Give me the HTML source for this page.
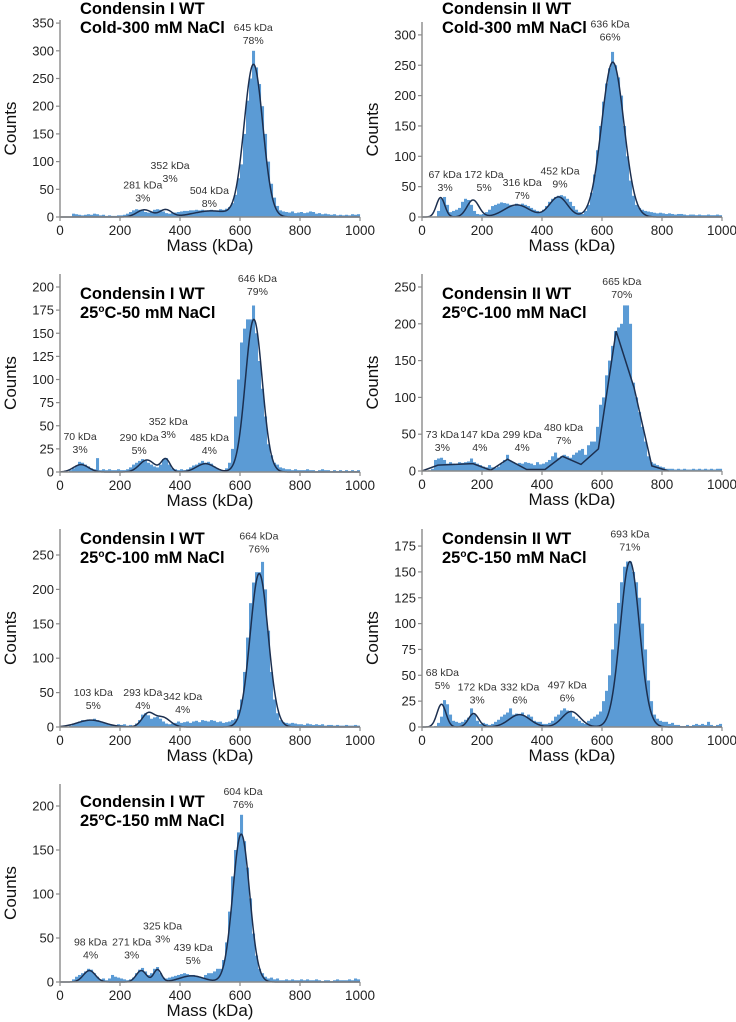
<!DOCTYPE html>
<html><head><meta charset="utf-8"><style>
html,body{margin:0;padding:0;background:#fff;}
svg{display:block;font-family:"Liberation Sans",Arial,sans-serif;}
</style></head><body>
<svg id="fig" width="736" height="1022" viewBox="0 0 736 1022" xmlns="http://www.w3.org/2000/svg"></svg>
<script>
// ---------- data (10 kDa bins, 0..1000 kDa) ----------
const p1Counts=[0,0,0,0,6,5,4,3,4,5, 4,6,5,3,4,2,3,2,2,3, 3,4,6,9,12,14,13,12,9,8, 10,13,14,13,10,7,6,7,8,9, 10,11,11,12,12,13,12,13,12,12, 13,12,12,14,13,15,18,25,40,70, 95,150,210,250,300,270,240,200,150,100, 60,35,20,12,10,9,8,10,7,8, 9,7,8,10,9,6,7,5,6,5, 4,5,3,4,3,4,3,5,4,5];
const p1Peaks=[281,352,504,645], p1Heights=[13,13,11,275], p1Widths=[25,20,60,31];
const p1Labels=["281 kDa","352 kDa","504 kDa","645 kDa"], p1Pct=["3%","3%","8%","78%"];
const p1LabX=[276,367,498,644], p1LabY=[59,94,49,343];

const p2Counts=[0,0,0,0,1,10,30,33,20,8, 10,12,15,25,30,28,20,10,5,4, 5,8,12,18,20,22,24,23,22,20, 18,22,20,22,20,18,15,12,10,8, 12,18,25,30,33,35,36,34,30,25, 18,12,8,5,10,20,40,70,110,150, 190,220,245,272,250,230,200,150,100,60, 35,20,15,12,10,9,8,7,6,7, 6,5,6,5,4,5,5,4,3,4, 4,3,4,3,3,4,3,3,4,3];
const p2Peaks=[62,170,316,455,636], p2Heights=[32,28,20,33,255], p2Widths=[14,20,42,30,37];
const p2Labels=["67 kDa","172 kDa","316 kDa","452 kDa","636 kDa"], p2Pct=["3%","5%","7%","9%","66%"];
const p2LabX=[77,207,334,460,627], p2LabY=[71,71,58,77,319];

const p3Counts=[0,0,0,2,4,7,11,10,8,6, 4,3,15,2,3,2,3,2,2,3, 2,2,3,5,8,10,12,14,13,10, 8,6,5,8,14,15,8,4,3,2, 3,2,3,5,7,8,10,12,10,11, 9,6,4,2,2,4,10,25,60,100, 140,155,165,165,180,150,120,90,60,30, 18,10,8,5,4,3,3,2,3,2, 2,2,3,2,2,1,2,3,2,2, 1,2,1,2,1,2,1,2,1,2];
const p3Peaks=[70,290,352,485,646], p3Heights=[8,13,14,9,165], p3Widths=[25,25,15,30,28];
const p3Labels=["70 kDa","290 kDa","352 kDa","485 kDa","646 kDa"], p3Pct=["3%","5%","3%","4%","79%"];
const p3LabX=[67,264,361,498,658], p3LabY=[39,38,55,38,210];

const p4Counts=[0,0,1,3,15,17,18,15,10,12, 10,9,12,11,12,13,17,12,10,8, 6,5,8,5,4,6,10,15,22,14, 12,10,11,10,12,11,10,8,12,9, 10,12,15,20,25,18,20,22,20,18, 22,25,28,30,22,35,40,40,60,90, 100,130,150,170,190,195,200,225,225,200, 120,100,80,60,40,20,12,10,8,6, 5,3,3,3,2,3,2,3,2,2, 3,2,3,2,3,2,3,2,3,3];
const p4FitX=[0,53,170,229,285,349,410,468,530,588,647,707,766,822];
const p4FitY=[0,8,10,1,16,2,2,20,9,30,190,113,7,0];
const p4Labels=["73 kDa","147 kDa","299 kDa","480 kDa","665 kDa"], p4Pct=["3%","4%","4%","7%","70%"];
const p4LabX=[68,193,334,472,666], p4LabY=[50,50,50,60,258];

const p5Counts=[0,0,0,2,5,6,8,10,9,11, 10,12,10,8,6,5,4,3,3,4, 3,4,2,3,2,5,10,18,20,17, 12,14,15,12,8,5,4,5,6,8, 6,7,8,6,8,9,7,10,9,8, 10,9,7,8,6,7,8,10,12,25, 40,80,130,180,210,225,225,240,200,140, 80,40,20,10,7,6,5,6,5,4, 4,3,5,4,3,4,3,4,2,3, 3,2,3,2,2,3,2,2,3,2];
const p5Peaks=[103,293,342,664], p5Heights=[10,19,14,223], p5Widths=[45,20,25,30];
const p5Labels=["103 kDa","293 kDa","342 kDa","664 kDa"], p5Pct=["5%","4%","4%","76%"];
const p5LabX=[111,276,409,663], p5LabY=[51,51,45,278];

const p6Counts=[0,0,0,0,1,4,10,26,22,12, 6,5,4,5,7,9,18,12,6,3, 4,3,2,3,5,7,10,12,14,18, 12,13,12,14,10,12,10,6,5,5, 3,3,4,6,10,12,16,18,16,15, 10,8,6,4,3,6,8,10,12,15, 25,35,50,75,100,120,140,155,160,160, 150,140,125,100,75,45,25,12,8,6, 5,5,3,4,2,2,1,1,2,1, 2,3,2,3,2,5,2,1,2,3];
const p6Peaks=[65,172,325,497,693], p6Heights=[22,13,12,15,160], p6Widths=[15,17,35,30,32];
const p6Labels=["68 kDa","172 kDa","332 kDa","497 kDa","693 kDa"], p6Pct=["5%","3%","6%","6%","71%"];
const p6LabX=[68,184,326,484,693], p6LabY=[53,39,39,41,187];

const p7Counts=[0,0,0,0,3,6,8,10,12,15, 14,10,6,3,4,2,4,8,6,5, 4,3,2,3,5,10,14,16,12,8, 10,15,17,10,5,4,5,6,7,8, 9,10,9,8,8,7,6,5,8,10, 10,12,15,15,25,45,80,120,150,170, 190,160,130,95,55,30,15,10,6,4, 5,3,4,2,2,3,2,3,2,2, 3,2,3,2,2,3,2,1,2,2, 1,2,3,2,2,2,3,2,4,3];
const p7Peaks=[98,271,325,439,604], p7Heights=[13,13,14,7,168], p7Widths=[20,17,13,40,28];
const p7Labels=["98 kDa","271 kDa","325 kDa","439 kDa","604 kDa"], p7Pct=["4%","3%","3%","5%","76%"];
const p7LabX=[102,239,342,444,610], p7LabY=[46,46,64,40,217];

const xTicks=[0,200,400,600,800,1000];

// ---------- layout ----------
const panels=[
 {id:"p1",x0:60,y0:217,top:20,ymax:350,ystep:50,scale:0.554,t1:"Condensin I WT",t2:"Cold-300 mM NaCl",deg:false,ty:-6,counts:p1Counts,peaks:p1Peaks,heights:p1Heights,widths:p1Widths,labels:p1Labels,pct:p1Pct,lx:p1LabX,ly:p1LabY},
 {id:"p2",x0:422,y0:217,top:22,ymax:300,ystep:50,scale:0.607,t1:"Condensin II WT",t2:"Cold-300 mM NaCl",deg:false,ty:-8,counts:p2Counts,peaks:p2Peaks,heights:p2Heights,widths:p2Widths,labels:p2Labels,pct:p2Pct,lx:p2LabX,ly:p2LabY},
 {id:"p3",x0:60,y0:472,top:274,ymax:200,ystep:25,scale:0.925,t1:"Condensin I WT",t2:"25C-50 mM NaCl",deg:true,ty:25,counts:p3Counts,peaks:p3Peaks,heights:p3Heights,widths:p3Widths,labels:p3Labels,pct:p3Pct,lx:p3LabX,ly:p3LabY},
 {id:"p4",x0:422,y0:471,top:274,ymax:250,ystep:50,scale:0.736,t1:"Condensin II WT",t2:"25C-100 mM NaCl",deg:true,ty:25,counts:p4Counts,fitX:p4FitX,fitY:p4FitY,labels:p4Labels,pct:p4Pct,lx:p4LabX,ly:p4LabY},
 {id:"p5",x0:60,y0:727,top:529,ymax:250,ystep:50,scale:0.688,t1:"Condensin I WT",t2:"25C-100 mM NaCl",deg:true,ty:15,counts:p5Counts,peaks:p5Peaks,heights:p5Heights,widths:p5Widths,labels:p5Labels,pct:p5Pct,lx:p5LabX,ly:p5LabY},
 {id:"p6",x0:422,y0:727,top:529,ymax:175,ystep:25,scale:1.034,t1:"Condensin II WT",t2:"25C-150 mM NaCl",deg:true,ty:15,counts:p6Counts,peaks:p6Peaks,heights:p6Heights,widths:p6Widths,labels:p6Labels,pct:p6Pct,lx:p6LabX,ly:p6LabY},
 {id:"p7",x0:60,y0:982,top:784,ymax:200,ystep:50,scale:0.88,t1:"Condensin I WT",t2:"25C-150 mM NaCl",deg:true,ty:23,counts:p7Counts,peaks:p7Peaks,heights:p7Heights,widths:p7Widths,labels:p7Labels,pct:p7Pct,lx:p7LabX,ly:p7LabY}
];
const NS="http://www.w3.org/2000/svg";
const svg=document.getElementById("fig");
function mk(tag,attrs,parent){const e=document.createElementNS(NS,tag);for(const k in attrs)e.setAttribute(k,attrs[k]);(parent||svg).appendChild(e);return e;}

panels.forEach(p=>{
 const g=mk("g",{});
 
 
 const X=v=>p.x0+v*0.3;
 const Y=v=>p.y0-v*p.scale;
 const bars=mk("g",{fill:"#5b9bd5"},g);
 
 
 p.counts.forEach((c,i)=>{
  if(c<=0)return;
  const r=mk("rect",{x:X(i*10).toFixed(2),y:Y(c).toFixed(2),width:3.05,height:(c*p.scale).toFixed(2)},bars);
  
  
 });
 let d="";
 if(p.fitX){
  p.fitX.forEach((x,i)=>{d+=(i?"L":"M")+X(x).toFixed(2)+","+Y(p.fitY[i]).toFixed(2);});
 } else {
  for(let m=0;m<=1000;m+=2){
   let s=0;p.peaks.forEach((c,k)=>{s+=p.heights[k]*Math.exp(-((m-c)*(m-c))/(2*p.widths[k]*p.widths[k]));});
   d+=(m?"L":"M")+X(m).toFixed(2)+","+Y(s).toFixed(2);
  }
 }
 const fit=mk("path",{d:d,fill:"none",stroke:"#1c2f4f","stroke-width":1.5},g);
 
 
 const ya=mk("line",{x1:p.x0,y1:p.top,x2:p.x0,y2:p.y0,stroke:"#8a8a8a","stroke-width":1.4},g);
 
 
 const xa=mk("line",{x1:p.x0,y1:p.y0,x2:X(1000),y2:p.y0,stroke:"#8a8a8a","stroke-width":1.4},g);
 
 
 for(let v=0;v<=p.ymax;v+=p.ystep){
  mk("line",{x1:p.x0-4,y1:Y(v),x2:p.x0,y2:Y(v),stroke:"#8a8a8a","stroke-width":1.2},g);
  const t=mk("text",{x:p.x0-6,y:Y(v)+4.5,"text-anchor":"end","font-size":13,fill:"#222"},g);
  t.textContent=v;
  
  
 }
 xTicks.forEach(v=>{
  mk("line",{x1:X(v),y1:p.y0,x2:X(v),y2:p.y0+4,stroke:"#8a8a8a","stroke-width":1.2},g);
  const t=mk("text",{x:X(v),y:p.y0+18,"text-anchor":"middle","font-size":13.5,fill:"#222"},g);
  t.textContent=v;
  
  
 });
 const xt=mk("text",{x:X(500),y:p.y0+34,"text-anchor":"middle","font-size":17,fill:"#111"},g);
 xt.textContent="Mass (kDa)";
 
 
 const cy=(p.top+p.y0)/2+10;
 const cx=p.x0-44;
 const yt=mk("text",{x:cx,y:cy,"text-anchor":"middle","font-size":17,fill:"#111",transform:"rotate(-90 "+cx+" "+cy+")"},g);
 yt.textContent="Counts";
 
 
 const tx=p.x0+20;
 const t1=mk("text",{x:tx,y:p.top+p.ty,"font-size":16.5,"font-weight":"bold",fill:"#000"},g);
 t1.textContent=p.t1;
 
 
 const t2=mk("text",{x:tx,y:p.top+p.ty+19,"font-size":16.5,"font-weight":"bold",fill:"#000"},g);
 
 
 if(p.deg){
  const a=mk("tspan",{},t2);a.textContent="25";
  const b=mk("tspan",{"font-size":10,dy:-6},t2);b.textContent="o";
  const c=mk("tspan",{dy:6},t2);c.textContent=p.t2.slice(2);
 } else t2.textContent=p.t2;
 p.labels.forEach((lab,i)=>{
  const a1=mk("text",{x:X(p.lx[i]),y:Y(p.ly[i])+4,"text-anchor":"middle","font-size":10.5,fill:"#333"},g);
  a1.textContent=lab;
  
  
  const a2=mk("text",{x:X(p.lx[i]),y:Y(p.ly[i])+17,"text-anchor":"middle","font-size":10.5,fill:"#333"},g);
  a2.textContent=p.pct[i];
  
  
 });
});
</script>
</body></html>
